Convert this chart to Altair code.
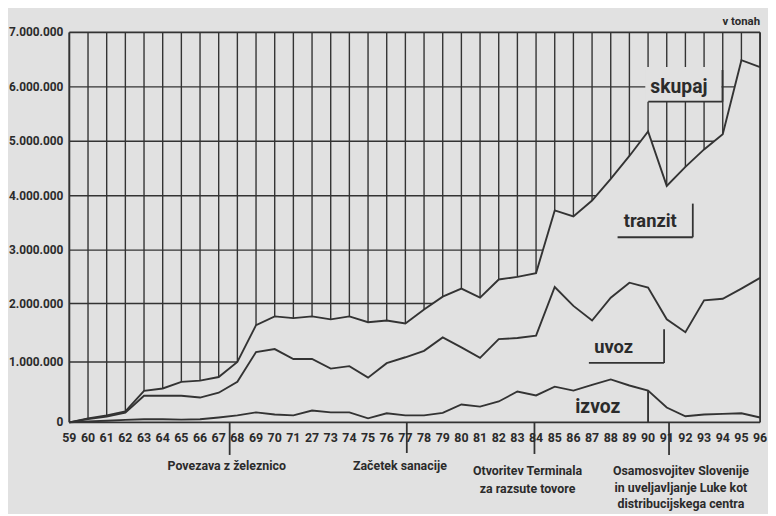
import altair as alt
import pandas as pd

# ---------------- data ----------------
year_labels = ["59", "60", "61", "62", "63", "64", "65", "66", "67", "68",
               "69", "70", "71", "27", "73", "74", "75", "76", "77", "78",
               "79", "80", "81", "82", "83", "84", "85", "86", "87", "88",
               "89", "90", "91", "92", "93", "94", "95", "96"]

# top line: skupaj (total, in tons)
skupaj = [0, 65000, 115000, 180000, 520000, 560000, 670000, 690000, 750000, 1000000,
          1630000, 1780000, 1750000, 1780000, 1730000, 1780000, 1680000, 1710000, 1660000, 1900000,
          2130000, 2280000, 2110000, 2450000, 2500000, 2570000, 3730000, 3620000, 3910000, 4310000,
          4730000, 5180000, 4180000, 4530000, 4850000, 5130000, 6490000, 6360000]

# middle line: izvoz + uvoz
izvoz_uvoz = [0, 55000, 95000, 160000, 440000, 440000, 440000, 410000, 490000, 670000,
              1170000, 1220000, 1050000, 1050000, 890000, 930000, 740000, 980000, 1080000, 1190000,
              1420000, 1250000, 1070000, 1390000, 1410000, 1450000, 2310000, 1960000, 1710000, 2110000,
              2390000, 2300000, 1730000, 1510000, 2060000, 2090000, 2280000, 2480000]

# bottom line: izvoz
izvoz = [0, 15000, 25000, 40000, 50000, 50000, 45000, 50000, 80000, 115000,
         165000, 130000, 115000, 195000, 165000, 165000, 65000, 150000, 115000, 115000,
         155000, 295000, 260000, 345000, 510000, 445000, 590000, 525000, 620000, 710000,
         610000, 525000, 245000, 100000, 130000, 140000, 150000, 80000]

y_ticks = [0, 1000000, 2000000, 3000000, 4000000, 5000000, 6000000, 7000000]
y_tick_labels = ["0", "1.000.000", "2.000.000", "3.000.000", "4.000.000",
                 "5.000.000", "6.000.000", "7.000.000"]

series_labels = ["skupaj", "tranzit", "uvoz", "izvoz"]
event_labels = ["Povezava z železnico", "Začetek sanacije",
                ["Otvoritev Terminala", "za razsute tovore"],
                ["Osamosvojitev Slovenije", "in uveljavljanje Luke kot", "distribucijskega centra"]]
unit_label = "v tonah"

# ---------------- styling / layout ----------------
BG = "#e1e1e1"
INK = "#333333"
TXT = "#2b2b2b"
FONT = "Roboto"
W, H = 698, 394
OX, OY = 70, 30  # plot origin in the page


def px(x, y):
    return x - OX, y - OY


n = len(year_labels)
idx = list(range(n))
x_scale = alt.Scale(domain=[0, n - 1], nice=False, zero=False)
# the original's gridlines are not evenly spaced: piecewise scale
y_scale = alt.Scale(domain=y_ticks, range=[394, 333, 274, 220, 165, 110, 55, 0], nice=False)

df = pd.DataFrame({"i": idx, "skupaj": skupaj, "izvoz_uvoz": izvoz_uvoz, "izvoz": izvoz})
long = df.melt(id_vars="i", var_name="serie", value_name="t")


def X(field):
    return alt.X(field, scale=x_scale, axis=None)


def Y(field):
    return alt.Y(field, scale=y_scale, axis=None)


def PX(field):
    return alt.X(field, scale=None, axis=None)


def PY(field):
    return alt.Y(field, scale=None, axis=None)


# grid
vgrid = alt.Chart(pd.DataFrame({"i": idx, "lo": 0, "hi": y_ticks[-1]})).mark_rule(
    color=INK, strokeWidth=1.4).encode(x=X("i:Q"), y=Y("lo:Q"), y2="hi:Q")

hgrid = alt.Chart(pd.DataFrame({"v": y_ticks[1:-1], "a": 0, "b": n - 1})).mark_rule(
    color=INK, strokeWidth=1.4).encode(x=X("a:Q"), x2="b:Q", y=Y("v:Q"))

cover = alt.Chart(df).mark_area(color=BG, opacity=1).encode(x=X("i:Q"), y=Y("skupaj:Q"))

# tick labels drawn as text marks through the scales
xlab = alt.Chart(pd.DataFrame({"i": idx, "lab": year_labels})).mark_text(
    font=FONT, fontWeight="bold", fontSize=12.5, color=TXT, baseline="middle",
    align="center").encode(x=X("i:Q"), y=alt.value(H + 16), text="lab:N")

ylab = alt.Chart(pd.DataFrame({"v": y_ticks, "lab": y_tick_labels})).mark_text(
    font=FONT, fontWeight="bold", fontSize=12, color=TXT, baseline="middle",
    align="right").encode(x=alt.value(-6), y=Y("v:Q"), text="lab:N")

# box behind the "skupaj" label
bx0, by0 = px(652, 65)
bx1, by1 = px(729, 100)
box = alt.Chart(pd.DataFrame({"x": [bx0], "x2": [bx1], "y": [by0], "y2": [by1]})).mark_rect(
    color=BG).encode(x=PX("x:Q"), x2="x2:Q", y=PY("y:Q"), y2="y2:Q")

lines = alt.Chart(long).mark_line(color=INK, strokeWidth=1.9).encode(
    x=X("i:Q"), y=Y("t:Q"), detail="serie:N")

# vertical stroke at 90 on the izvoz line
drop = alt.Chart(df[df["i"] == 31]).mark_rule(color=INK, strokeWidth=1.9).encode(
    x=X("i:Q"), y=Y("izvoz:Q"), y2=alt.datum(0))

# frame, brackets, event markers (pixel positions)
segs = [
    ((70, 30), (768, 30)), ((70, 30), (70, 424)), ((768, 30), (768, 424)), ((70, 424), (768, 424)),
    ((655, 100), (730, 100)), ((730, 68), (730, 100)),
    ((624, 237), (700, 237)), ((700, 203), (700, 237)),
    ((595, 364), (671, 364)), ((671, 330), (671, 364)),
    ((232, 424), (232, 457)), ((411, 424), (411, 455)),
    ((540, 424), (540, 456)), ((676, 424), (676, 457)),
]
rows = []
for (a, b) in segs:
    x1, y1 = px(*a)
    x2, y2 = px(*b)
    rows.append({"x": x1, "y": y1, "x2": x2, "y2": y2})
rules = alt.Chart(pd.DataFrame(rows)).mark_rule(color=INK, strokeWidth=1.8).encode(
    x=PX("x:Q"), x2="x2:Q", y=PY("y:Q"), y2="y2:Q")

# series labels
lab_pos = [(686, 91, 19.5), (657, 227, 18.5), (620, 354, 18.5), (604, 415, 19.5)]
lab_rows = []
for t, (x, y, s) in zip(series_labels, lab_pos):
    a, b = px(x, y)
    lab_rows.append({"t": t, "x": a, "y": b, "s": s})
labels = alt.Chart(pd.DataFrame(lab_rows)).mark_text(
    font=FONT, fontWeight="bold", color=TXT, align="center", baseline="alphabetic").encode(
    x=PX("x:Q"), y=PY("y:Q"), text="t:N", size=alt.Size("s:Q", scale=None))

# event texts under the axis
ev_pos = [(229, [472]), (404, [472]), (533, [477, 495]), (688, [477, 494, 511])]
ev_rows = []
for lab, (x, ys) in zip(event_labels, ev_pos):
    lines_t = lab if isinstance(lab, list) else [lab]
    for t, y in zip(lines_t, ys):
        a, b = px(x, y)
        ev_rows.append({"t": t, "x": a, "y": b})
events = alt.Chart(pd.DataFrame(ev_rows)).mark_text(
    font=FONT, fontWeight="bold", fontSize=12.5, color=TXT, align="center",
    baseline="alphabetic").encode(x=PX("x:Q"), y=PY("y:Q"), text="t:N")

ux, uy = px(768, 23)
unit = alt.Chart(pd.DataFrame({"t": [unit_label], "x": [ux], "y": [uy]})).mark_text(
    font=FONT, fontWeight="bold", fontSize=11.5, color=TXT, align="right",
    baseline="alphabetic").encode(x=PX("x:Q"), y=PY("y:Q"), text="t:N")

chart = alt.layer(vgrid, hgrid, cover, box, lines, drop, rules,
                  xlab, ylab, labels, events, unit).properties(
    width=W, height=H,
    autosize=alt.AutoSizeParams(type="none"),
    padding={"left": 62, "top": 22, "right": 8, "bottom": 90},
    background=BG,
).configure_view(stroke=None)

chart.save("out.html", embed_options={"renderer": "svg", "actions": False})
